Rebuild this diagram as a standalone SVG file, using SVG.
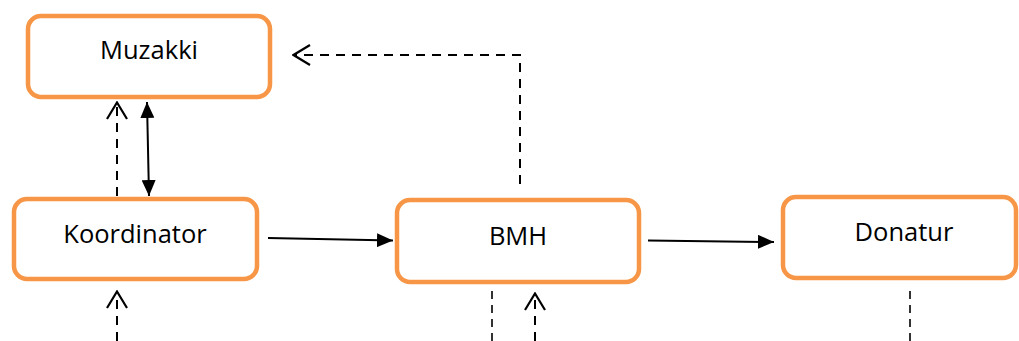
<svg xmlns="http://www.w3.org/2000/svg" width="1019" height="341" viewBox="0 0 1019 341">
<style>
.box{fill:#fff;stroke:#F79646;stroke-width:4.5}
.lbl{font-family:"Open Sans","Liberation Sans",sans-serif;font-size:25.5px;fill:#000;text-anchor:middle}
.solid{stroke:#000;stroke-width:2;fill:none}
.dash{stroke:#000;stroke-width:2;fill:none;stroke-dasharray:9 7}
.thin{stroke:#000;stroke-width:1.6;fill:none;stroke-dasharray:8 6}
</style>
<defs>
<marker id="tri" viewBox="0 0 16 14" refX="16" refY="7" markerWidth="16" markerHeight="14" markerUnits="userSpaceOnUse" orient="auto-start-reverse">
<path d="M0,0 L16,7 L0,14 Z" fill="#000"/>
</marker>
<marker id="chev" viewBox="0 0 20 22" refX="19" refY="11" markerWidth="20" markerHeight="22" markerUnits="userSpaceOnUse" orient="auto-start-reverse">
<path d="M2,1 L18.5,11 L2,21" fill="none" stroke="#000" stroke-width="2.2"/>
</marker>
</defs>
<g id="muzakki"><rect class="box" x="28" y="16" width="242" height="81" rx="13"/><text class="lbl" x="149" y="59">Muzakki</text></g>
<g id="koordinator"><rect class="box" x="14" y="199" width="243" height="80" rx="13"/><text class="lbl" x="135" y="243">Koordinator</text></g>
<g id="bmh"><rect class="box" x="397" y="200" width="242" height="82" rx="13"/><text class="lbl" x="518" y="245">BMH</text></g>
<g id="donatur"><rect class="box" x="783" y="197" width="233" height="81" rx="13"/><text class="lbl" x="904" y="241">Donatur</text></g>
<g id="connectors">
<line class="solid" x1="268" y1="238" x2="393" y2="240.5" marker-end="url(#tri)"/>
<line class="solid" x1="648" y1="240.5" x2="774" y2="242" marker-end="url(#tri)"/>
<line class="solid" x1="147" y1="102" x2="149" y2="196" marker-start="url(#tri)" marker-end="url(#tri)"/>
<line class="dash" x1="117" y1="196" x2="117" y2="102" marker-end="url(#chev)"/>
<polyline class="dash" points="520,184 520,55 293,55" marker-end="url(#chev)"/>
<line class="dash" x1="117" y1="341" x2="117" y2="291" marker-end="url(#chev)"/>
<line class="thin" x1="492" y1="291" x2="492" y2="341"/>
<line class="dash" x1="535" y1="341" x2="535" y2="293" marker-end="url(#chev)"/>
<line class="thin" x1="910" y1="291" x2="910" y2="341"/>
</g>
</svg>
